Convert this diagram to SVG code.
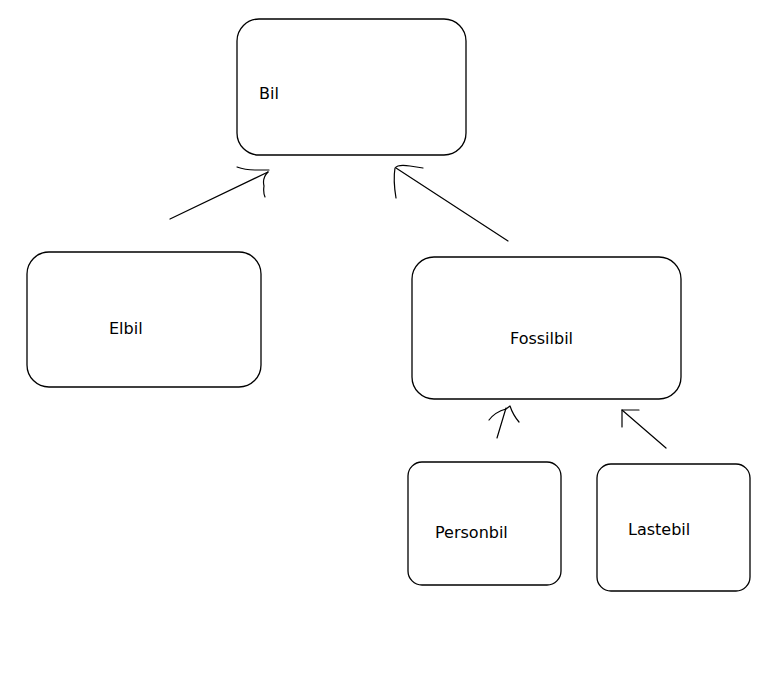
<svg xmlns="http://www.w3.org/2000/svg" width="766" height="681" viewBox="0 0 766 681">
<style>
.box{fill:#fff;stroke:#000;stroke-width:1.3}
.lbl{font-family:"DejaVu Sans",sans-serif;font-size:16px;fill:#000}
.con{fill:none;stroke:#000;stroke-width:1.2;stroke-linecap:round;stroke-linejoin:round}
</style>
<rect width="766" height="681" fill="#fff"/>
<g id="bil"><rect class="box" x="237" y="19" width="229" height="136" rx="22"/><text class="lbl" x="259" y="99">Bil</text></g>
<g id="elbil"><rect class="box" x="27" y="252" width="234" height="135" rx="22"/><text class="lbl" x="109" y="334">Elbil</text></g>
<g id="fossilbil"><rect class="box" x="412" y="257" width="269" height="142" rx="22"/><text class="lbl" x="510" y="344">Fossilbil</text></g>
<g id="personbil"><rect class="box" x="408" y="462" width="153" height="123" rx="14"/><text class="lbl" x="435" y="538">Personbil</text></g>
<g id="lastebil"><rect class="box" x="597" y="464" width="153" height="127" rx="14"/><text class="lbl" x="628" y="535">Lastebil</text></g>
<g id="connectors">
<path class="con" d="M170,219 L268,172"/>
<path class="con" d="M237,167 Q245,170 255,170 L269,170 M268,172 Q262,178 264,186 Q263,192 265,197"/>
<path class="con" d="M508,241 L396,168"/>
<path class="con" d="M395,168 Q398,164 410,166 L423,168 M395,168 Q393,180 396,198"/>
<path class="con" d="M497,438 L506,408"/>
<path class="con" d="M489,420 Q495,412 506,409 L510,406 Q513,415 519,422"/>
<path class="con" d="M666,448 L622,410"/>
<path class="con" d="M622,410 L639,410 M622,410 L622,427"/>
</g>
</svg>
